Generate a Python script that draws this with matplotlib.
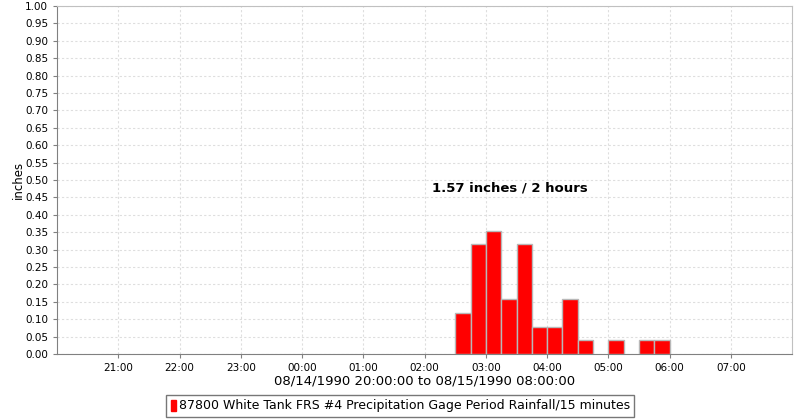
import numpy as np
import pandas as pd
import matplotlib
matplotlib.use("Agg")
import matplotlib.pyplot as plt
import matplotlib.dates as mdates

# 15-minute rainfall, period start times
times = ["1990-08-15 02:30", "1990-08-15 02:45", "1990-08-15 03:00", "1990-08-15 03:15",
         "1990-08-15 03:30", "1990-08-15 03:45", "1990-08-15 04:00", "1990-08-15 04:15",
         "1990-08-15 04:30", "1990-08-15 04:45", "1990-08-15 05:00", "1990-08-15 05:15",
         "1990-08-15 05:30", "1990-08-15 05:45"]
rain = [0.118, 0.315, 0.354, 0.157, 0.315, 0.079, 0.079, 0.157,
        0.039, 0.0, 0.039, 0.0, 0.039, 0.039]

start = pd.Timestamp("1990-08-14 20:00")
end = pd.Timestamp("1990-08-15 08:00")
series_label = "87800 White Tank FRS #4 Precipitation Gage Period Rainfall/15 minutes"
note = "1.57 inches / 2 hours"

t = pd.to_datetime(times)
vals = np.array(rain)
keep = vals > 0

fig = plt.figure(figsize=(8, 4.2), dpi=100)
ax = fig.add_axes([0.0713, 0.157, 0.919, 0.8287])

ax.bar(t[keep], vals[keep], width=pd.Timedelta(minutes=15), align="edge",
       color="#ff0000", edgecolor="#b8b8b8", linewidth=1.0, zorder=3)

ax.set_xlim(start, end)
ax.set_ylim(0, 1.0)
ax.set_yticks(np.arange(0, 1.0001, 0.05))
ax.yaxis.set_major_formatter(plt.FormatStrFormatter("%.2f"))
ax.xaxis.set_major_formatter(mdates.DateFormatter("%H:%M"))
ticks = [x for x in pd.date_range(start, end, freq="h")][1:-1]
ax.set_xticks(ticks)

ax.grid(True, color="#dedede", linestyle=(0, (2, 2)), linewidth=0.8, zorder=0)
ax.tick_params(labelsize=7.5, colors="#808080", labelcolor="black", length=3, width=0.8)

for side in ["top", "right"]:
    ax.spines[side].set_color("#c0c0c0")
for side in ["left", "bottom"]:
    ax.spines[side].set_color("#808080")

ax.set_ylabel("inches", fontsize=8.5)
ax.yaxis.set_label_coords(-0.044, 0.5)
ax.set_xlabel("08/14/1990 20:00:00 to 08/15/1990 08:00:00", fontsize=9.5, labelpad=1)

ax.text(pd.Timestamp("1990-08-15 03:23"), 0.477, note, ha="center", va="center",
        fontsize=9.5, fontweight="bold")

leg = ax.legend([plt.Rectangle((0, 0), 1, 1, color="#ff0000")], [series_label],
                loc="center", bbox_to_anchor=(0.467, -0.149), fontsize=9,
                frameon=True, fancybox=False, edgecolor="#555555",
                handlelength=0.45, handleheight=1.0, handletextpad=0.2,
                borderpad=0.35, borderaxespad=0)
leg.get_frame().set_linewidth(1.0)

fig.savefig("out.png", dpi=100)
